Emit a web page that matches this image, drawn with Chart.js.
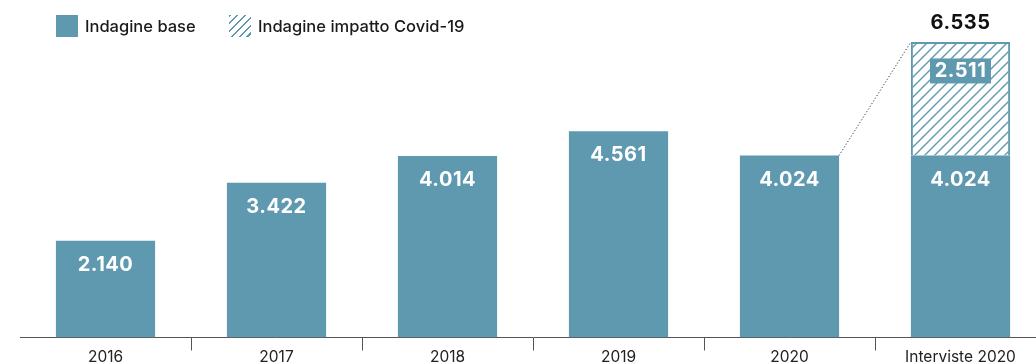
<!DOCTYPE html>
<html>
<head>
<meta charset="utf-8">
<script src="https://cdn.jsdelivr.net/npm/chart.js@4/dist/chart.umd.min.js"></script>
<style>
  html, body { margin: 0; padding: 0; background: #fff; overflow: hidden; }
  #wrap { position: relative; width: 1046px; height: 364px; }
  .lg { position: absolute; top: 15px; height: 22px; display: flex; align-items: center; font-family: Inter, sans-serif; font-weight: 500; font-size: 16.5px; color: #1a1a1a; white-space: nowrap; }
  .sw { width: 22px; height: 22px; margin-right: 7px; flex: none; }
  .solid { background: #5e99af; }
  .hatch { background: repeating-linear-gradient(135deg, #5e99af 0 1.5px, transparent 1.5px 5.5px); }
</style>
</head>
<body>
<div id="wrap">
  <canvas id="c"></canvas>
  <div class="lg" style="left:56px"><span class="sw solid"></span>Indagine base</div>
  <div class="lg" style="left:229px"><span class="sw hatch"></span>Indagine impatto Covid-19</div>
</div>
<script>
const categories = ['2016', '2017', '2018', '2019', '2020', 'Interviste 2020'];
const baseValues = [2140, 3422, 4014, 4561, 4024, 4024];
const covidValues = [null, null, null, null, null, 2511];

const COLOR = '#5e99af';
function fmt(v) { return String(v).replace(/\B(?=(\d{3})+(?!\d))/g, '.'); }

function makePattern() {
  const s = 10;
  const cv = document.createElement('canvas');
  cv.width = s; cv.height = s;
  const g = cv.getContext('2d');
  g.fillStyle = '#fff'; g.fillRect(0, 0, s, s);
  g.strokeStyle = COLOR; g.lineWidth = 1.4;
  g.beginPath();
  g.moveTo(-1, s + 1); g.lineTo(s + 1, -1);
  g.moveTo(-1, 1); g.lineTo(1, -1);
  g.moveTo(s - 1, s + 1); g.lineTo(s + 1, s - 1);
  g.stroke();
  return g.createPattern(cv, 'repeat');
}

const labelPlugin = {
  id: 'labels',
  afterDatasetsDraw(chart) {
    const ctx = chart.ctx;
    const m0 = chart.getDatasetMeta(0), m1 = chart.getDatasetMeta(1);
    ctx.save();
    ctx.font = '700 20px Inter, sans-serif';
    ctx.textAlign = 'center';
    ctx.textBaseline = 'middle';
    if ('letterSpacing' in ctx) ctx.letterSpacing = '0.5px';
    m0.data.forEach((bar, i) => {
      ctx.fillStyle = '#fff';
      ctx.fillText(fmt(baseValues[i]), bar.x, bar.y + 24);
    });
    m1.data.forEach((bar, i) => {
      if (covidValues[i] == null) return;
      const w = 61, h = 25, cy = bar.y + 29;
      ctx.fillStyle = COLOR;
      ctx.fillRect(bar.x - w / 2, cy - h / 2, w, h);
      ctx.fillStyle = '#fff';
      ctx.fillText(fmt(covidValues[i]), bar.x, cy);
      ctx.fillStyle = '#111';
      ctx.fillText(fmt(baseValues[i] + covidValues[i]), bar.x, bar.y - 19);
      const prev = m0.data[i - 1];
      if (prev) {
        ctx.save();
        ctx.setLineDash([1.2, 2]);
        ctx.strokeStyle = '#333';
        ctx.lineWidth = 1;
        ctx.beginPath();
        ctx.moveTo(prev.x + prev.width / 2, prev.y);
        ctx.lineTo(bar.x - bar.width / 2, bar.y);
        ctx.stroke();
        ctx.restore();
      }
    });
    ctx.restore();
  }
};

new Chart(document.getElementById('c'), {
  type: 'bar',
  data: {
    labels: categories,
    datasets: [
      { label: 'Indagine base', data: baseValues, backgroundColor: COLOR, borderWidth: 0 },
      { label: 'Indagine impatto Covid-19', data: covidValues, backgroundColor: makePattern(), borderColor: COLOR, borderWidth: 2, borderSkipped: 'bottom' }
    ]
  },
  options: {
    responsive: true,
    maintainAspectRatio: false,
    animation: false,
    devicePixelRatio: 1,
    categoryPercentage: 1,
    barPercentage: 0.58,
    layout: { padding: { left: 20, top: 39, right: 0, bottom: 0 } },
    plugins: { legend: { display: false }, tooltip: { enabled: false } },
    scales: {
      x: {
        stacked: true,
        grid: {
          offset: true,
          drawOnChartArea: false,
          drawTicks: true,
          tickLength: 13,
          color: (c) => (c.index === 0 ? 'rgba(0,0,0,0)' : '#555'),
          lineWidth: 1
        },
        border: { display: true, color: '#555', width: 1 },
        ticks: { color: '#222', padding: -1, font: { family: 'Inter, sans-serif', size: 15.5, lineHeight: 1 } }
      },
      y: { stacked: true, display: false, min: 0, max: 6600 }
    }
  },
  plugins: [labelPlugin]
});
</script>
</body>
</html>
